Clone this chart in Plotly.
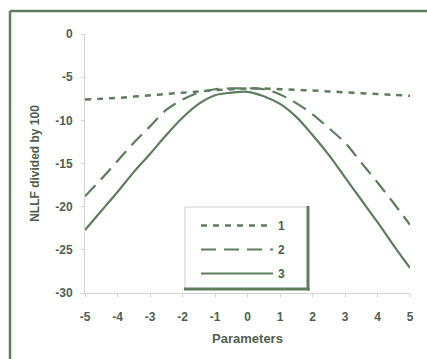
import plotly.graph_objects as go

x_vals = [-5, -4.5, -4, -3.5, -3, -2.5, -2, -1.5, -1, -0.5, 0, 0.5, 1, 1.5, 2, 2.5, 3, 3.5, 4, 4.5, 5]
series1 = [-7.6, -7.5, -7.4, -7.25, -7.1, -6.95, -6.8, -6.65, -6.5, -6.4, -6.3, -6.32, -6.4, -6.48, -6.55, -6.65, -6.75, -6.85, -6.95, -7.05, -7.15]
series2 = [-18.8, -16.8, -14.7, -12.6, -10.7, -8.8, -7.6, -6.8, -6.4, -6.3, -6.3, -6.4, -7.0, -8.0, -9.3, -10.9, -12.6, -14.9, -17.2, -19.6, -22.1]
series3 = [-22.7, -20.5, -18.3, -16.0, -13.9, -11.7, -9.7, -8.1, -7.1, -6.8, -6.7, -7.2, -8.1, -9.6, -11.7, -14.0, -16.6, -19.2, -21.8, -24.5, -27.1]
names = ["1", "2", "3"]
x_ticks = [-5, -4, -3, -2, -1, 0, 1, 2, 3, 4, 5]
y_ticks = [0, -5, -10, -15, -20, -25, -30]

line_col = "#5e7c5e"
text_col = "#4f5f4f"
font_fam = "Liberation Sans, Arial, sans-serif"

# figure geometry in pixels (used to place decorations in paper coordinates)
W, H = 427, 359
L, R, T, B = 85, 17, 34, 66
PW, PH = W - L - R, H - T - B


def px_x(px):
    return (px - L) / PW


def px_y(py):
    return (H - B - py) / PH


fig = go.Figure()
fig.add_trace(go.Scatter(x=x_vals, y=series1, mode="lines", name=names[0], legendgroup="g1",
                         line=dict(color=line_col, width=2.5, dash="6px,6px"), line_shape="spline"))
fig.add_trace(go.Scatter(x=x_vals, y=series2, mode="lines", name=names[1], legendgroup="g2",
                         line=dict(color=line_col, width=2.2, dash="15px,8px"), line_shape="spline"))
fig.add_trace(go.Scatter(x=x_vals, y=series3, mode="lines", name=names[2], legendgroup="g3",
                         line=dict(color=line_col, width=2.2), line_shape="spline"))

fig.update_layout(
    width=W, height=H,
    margin=dict(l=L, r=R, t=T, b=B),
    paper_bgcolor="white", plot_bgcolor="white",
    font=dict(family=font_fam, color=text_col, size=11),
    showlegend=True,
    legend=dict(x=px_x(196), y=px_y(211), xanchor="left", yanchor="top",
                bgcolor="rgba(0,0,0,0)", borderwidth=0,
                font=dict(size=12, family=font_fam, color=text_col, weight="bold"),
                itemwidth=72, tracegroupgap=5),
    xaxis=dict(range=[-5, 5], tickvals=x_ticks, ticktext=[str(v) for v in x_ticks],
               showgrid=False, zeroline=False, showline=True, linecolor="#d2d2d2", linewidth=1,
               ticks="outside", ticklen=3, tickcolor="#d2d2d2", ticklabelstandoff=10,
               tickfont=dict(size=12, family=font_fam, color=text_col, weight="bold"),
               title=dict(text="Parameters", font=dict(size=13, color=text_col, weight="bold"), standoff=10)),
    yaxis=dict(range=[-30, 0], tickvals=y_ticks, ticktext=[str(v) for v in y_ticks],
               showgrid=False, zeroline=False, showline=True, linecolor="#d2d2d2", linewidth=1,
               ticks="outside", ticklen=3, tickcolor="#d2d2d2", ticklabelstandoff=6,
               tickfont=dict(size=12, family=font_fam, color=text_col, weight="bold"),
               title=dict(text="NLLF divided by 100", font=dict(size=12, color=text_col, weight="bold"), standoff=13)),
)

dark = "#5e7c5e"
# outer frame: top and left edges
fig.add_shape(type="line", xref="paper", yref="paper", x0=px_x(10), x1=px_x(430), y0=px_y(11), y1=px_y(11),
              line=dict(color=dark, width=2.5), layer="above")
fig.add_shape(type="line", xref="paper", yref="paper", x0=px_x(10), x1=px_x(10), y0=px_y(11), y1=px_y(362),
              line=dict(color=dark, width=2.5), layer="above")

# legend box with shadow on the right and bottom
fig.add_shape(type="rect", xref="paper", yref="paper", x0=px_x(185), x1=px_x(308), y0=px_y(289), y1=px_y(207),
              line=dict(color="#d0d0d0", width=1), fillcolor="white", layer="above")
fig.add_shape(type="line", xref="paper", yref="paper", x0=px_x(308), x1=px_x(308), y0=px_y(290.5), y1=px_y(206),
              line=dict(color=dark, width=3), layer="above")
fig.add_shape(type="line", xref="paper", yref="paper", x0=px_x(184), x1=px_x(309.5), y0=px_y(289), y1=px_y(289),
              line=dict(color=dark, width=3), layer="above")

fig.write_html("out.html", config={"displayModeBar": False},
               post_script="document.body.style.margin='0';")
